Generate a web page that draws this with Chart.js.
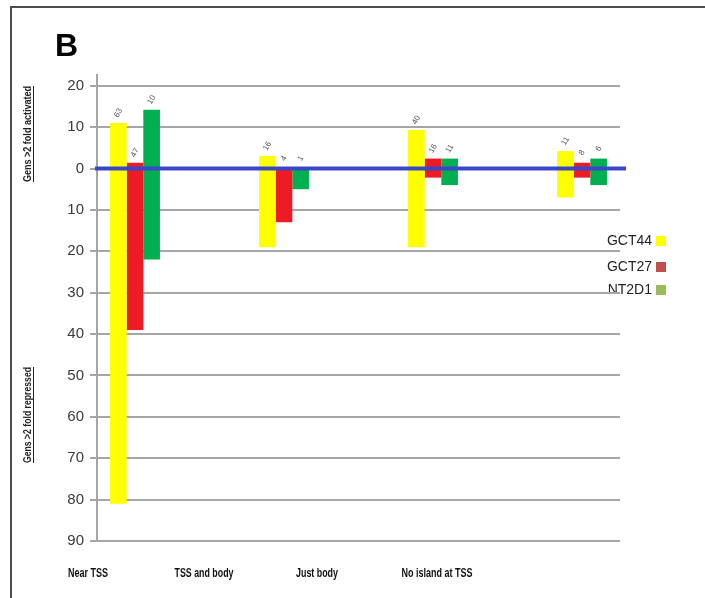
<!DOCTYPE html>
<html>
<head>
<meta charset="utf-8">
<script src="https://cdn.jsdelivr.net/npm/chart.js@4"></script>
<style>
  body { margin: 0; background: #fff; }
  canvas { display: block; }
</style>
</head>
<body>
<canvas id="barChart" width="705" height="598"></canvas>
<script>
// categories and series (positive = activated, negative = repressed)
var categories = ['Near TSS', 'TSS and body', 'Just body', 'No island at TSS'];
var seriesNames = ['GCT44', 'GCT27', 'NT2D1'];
var gct44 = [[-81, 11], [-19, 3], [-19, 9.3], [-7, 4.2]];
var gct27 = [[-39, 1.4], [-13, 0], [-2.2, 2.4], [-2.2, 1.4]];
var nt2d1 = [[-22, 14.2], [-5, 0], [-4, 2.4], [-4, 2.4]];
// small numbers written over each bar
var gct44Counts = ['63', '16', '40', '11'];
var gct27Counts = ['47', '4', '16', '8'];
var nt2d1Counts = ['10', '1', '11', '6'];
var yTicks = [20, 10, 0, -10, -20, -30, -40, -50, -60, -70, -80, -90];

var barColors = ['#ffff00', '#ed1c24', '#00b050'];
var legendColors = ['#ffff00', '#c0504d', '#9bbb59'];
var counts = [gct44Counts, gct27Counts, nt2d1Counts];

function toPoints(arr) {
  return arr.map(function (v, i) { return { x: i, y: v }; });
}

// frame, panel letter, axis titles, labels, legend, zero line
var decor = {
  id: 'decor',
  beforeDraw: function (chart) {
    var c = chart.ctx;
    c.save();
    c.strokeStyle = '#4d4d4d';
    c.lineWidth = 2;
    c.strokeRect(11, 7, 720, 620);
    c.fillStyle = '#000';
    c.font = 'bold 32px "Liberation Sans", Arial, sans-serif';
    c.textAlign = 'left';
    c.textBaseline = 'alphabetic';
    c.fillText('B', 55, 56);

    function sideTitle(text, cy) {
      c.save();
      c.translate(28, cy);
      c.rotate(-Math.PI / 2);
      c.font = 'bold 10px "Liberation Sans", Arial, sans-serif';
      c.fillStyle = '#222';
      c.textAlign = 'center';
      c.textBaseline = 'middle';
      c.fillText(text, 0, 0, 96);
      c.fillRect(-48, 5, 96, 1);
      c.restore();
    }
    sideTitle('Gens >2 fold activated', 134);
    sideTitle('Gens >2 fold repressed', 415);

    // category labels under the plot
    var labelX = [88, 204, 317, 437];
    var labelW = [40, 59, 42, 71];
    c.font = 'bold 12px "Liberation Sans", Arial, sans-serif';
    c.fillStyle = '#111';
    c.textAlign = 'center';
    c.textBaseline = 'middle';
    categories.forEach(function (name, i) {
      c.fillText(name, labelX[i], 574, labelW[i]);
    });

    // legend
    var legY = [241, 267, 290];
    c.font = '14px "Liberation Sans", Arial, sans-serif';
    seriesNames.forEach(function (name, i) {
      c.fillStyle = '#222';
      c.textAlign = 'right';
      c.fillText(name, 652, legY[i]);
      c.fillStyle = legendColors[i];
      c.fillRect(656, legY[i] - 5, 10, 10);
    });
    c.restore();
  },
  afterDatasetsDraw: function (chart) {
    var c = chart.ctx;
    var y = chart.scales.y.getPixelForValue(0);
    c.save();
    c.strokeStyle = '#3a46c8';
    c.lineWidth = 4;
    c.beginPath();
    c.moveTo(95, y);
    c.lineTo(626, y);
    c.stroke();

    c.font = '8px "Liberation Sans", Arial, sans-serif';
    c.fillStyle = '#555';
    c.textAlign = 'center';
    c.textBaseline = 'middle';
    chart.data.datasets.forEach(function (ds, d) {
      var meta = chart.getDatasetMeta(d);
      meta.data.forEach(function (bar, i) {
        var top = chart.scales.y.getPixelForValue(ds.data[i].y[1]);
        c.save();
        c.translate(bar.x, top - 10);
        c.rotate(-Math.PI / 3);
        c.fillText(counts[d][i], 0, 0);
        c.restore();
      });
    });
    c.restore();
  }
};

var ctx = document.getElementById('barChart').getContext('2d');
var myChart = new Chart(ctx, {
  type: 'bar',
  data: {
    datasets: [
      { label: seriesNames[0], data: toPoints(gct44), backgroundColor: barColors[0] },
      { label: seriesNames[1], data: toPoints(gct27), backgroundColor: barColors[1] },
      { label: seriesNames[2], data: toPoints(nt2d1), backgroundColor: barColors[2] }
    ]
  },
  options: {
    responsive: false,
    animation: false,
    categoryPercentage: 0.335,
    barPercentage: 1,
    layout: { padding: { left: 0, right: 85, top: 75, bottom: 57 } },
    plugins: { legend: { display: false }, tooltip: { enabled: false } },
    scales: {
      x: {
        type: 'linear',
        display: false,
        offset: false,
        grid: { offset: false },
        min: -0.255,
        max: 3.255,
        afterBuildTicks: function (axis) {
          axis.ticks = categories.map(function (n, i) { return { value: i }; });
        }
      },
      y: {
        min: -90,
        max: 22.6,
        afterBuildTicks: function (axis) {
          axis.ticks = yTicks.map(function (v) { return { value: v }; });
        },
        afterFit: function (axis) { axis.width = 97; },
        grid: { color: '#a6a6a6', lineWidth: 2, tickLength: 7 },
        border: { color: '#a6a6a6', width: 2 },
        ticks: {
          padding: 6,
          color: '#3a3a3a',
          font: { size: 15, family: '"Liberation Sans", Arial, sans-serif' },
          callback: function (v) { return Math.abs(v); }
        }
      }
    }
  },
  plugins: [decor]
});
</script>
</body>
</html>
